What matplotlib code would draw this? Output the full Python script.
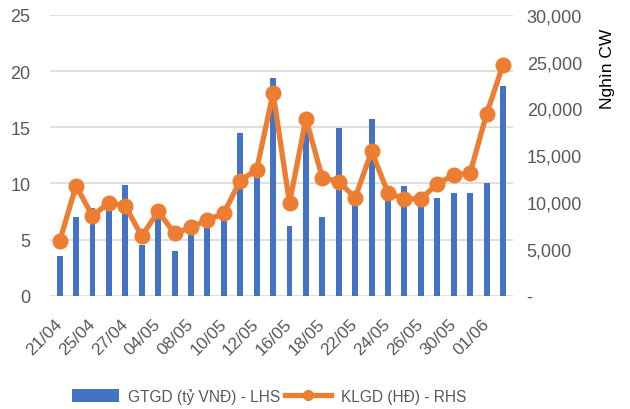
import numpy as np
import matplotlib.pyplot as plt
from matplotlib.lines import Line2D
from matplotlib.ticker import FuncFormatter

plt.rcParams['font.family'] = ['Liberation Sans', 'DejaVu Sans']

dates = ['21/04', '24/04', '25/04', '26/04', '27/04', '28/04', '04/05', '05/05',
         '08/05', '09/05', '10/05', '11/05', '12/05', '15/05', '16/05', '17/05',
         '18/05', '19/05', '22/05', '23/05', '24/05', '25/05', '26/05', '29/05',
         '30/05', '31/05', '01/06', '02/06']
gtgd = [3.5, 7.0, 7.8, 7.8, 9.9, 4.5, 7.0, 4.0, 5.8, 6.3, 6.9, 14.5, 11.0, 19.4,
        6.2, 15.5, 7.0, 14.9, 8.8, 15.7, 9.5, 9.8, 9.2, 8.7, 9.1, 9.1, 10.0, 18.7]
klgd = [5800, 11750, 8500, 9950, 9600, 6350, 9000, 6650, 7300, 8100, 8800, 12300,
        13450, 21650, 9900, 18900, 12600, 12200, 10450, 15450, 10950, 10350, 10350,
        11950, 12900, 13100, 19400, 24650]

blue = '#4472C4'
orange = '#ED7D31'
grey = '#595959'

fig = plt.figure(figsize=(6.3, 4.1), dpi=100)
ax = fig.add_axes([0.079, 0.2763, 0.735, 0.685])
ax2 = ax.twinx()

x = np.arange(len(dates))
bars = ax.bar(x, gtgd, width=0.36, color=blue, zorder=2)
ax2.plot(x, klgd, color=orange, lw=3.8, marker='o', ms=10.5, zorder=3)

ax.set_ylim(0, 25)
ax.set_yticks(range(0, 26, 5))
ax2.set_ylim(0, 30000)
ax2.set_yticks(range(0, 30001, 5000))
ax2.yaxis.set_major_formatter(FuncFormatter(lambda v, p: '-' if v == 0 else f'{int(v):,}'))
ax.set_xlim(-0.6, len(dates) - 0.4)

ax.grid(axis='y', color='#D9D9D9', lw=1.2, zorder=0)
ax.set_axisbelow(True)
for a in (ax, ax2):
    for s in a.spines.values():
        s.set_visible(False)
    a.tick_params(length=0, labelsize=13, colors=grey)

ax.set_xticks(x[::2])
ax.set_xticklabels(dates[::2], rotation=45, ha='right', va='center',
                   rotation_mode='anchor', fontsize=12.5)
ax.tick_params(axis='x', pad=18)
ax.tick_params(axis='y', pad=14)
ax2.tick_params(axis='y', pad=10)
ax2.set_ylabel('Nghìn CW', fontsize=12.5, color='black', va='center')
ax2.yaxis.set_label_coords(1.204, 0.811)

line_handle = Line2D([], [], color=orange, lw=3.8, marker='o', ms=7)
fig.legend([bars, line_handle], ['GTGD (tỷ VNĐ) - LHS', 'KLGD (HĐ) - RHS'],
           loc='center', bbox_to_anchor=(0.427, 0.032), ncol=2, frameon=False,
           fontsize=11.2, handlelength=3.0, handleheight=0.9, columnspacing=0.3,
           handletextpad=0.6, labelcolor=grey)

fig.savefig('out.png', dpi=100)
